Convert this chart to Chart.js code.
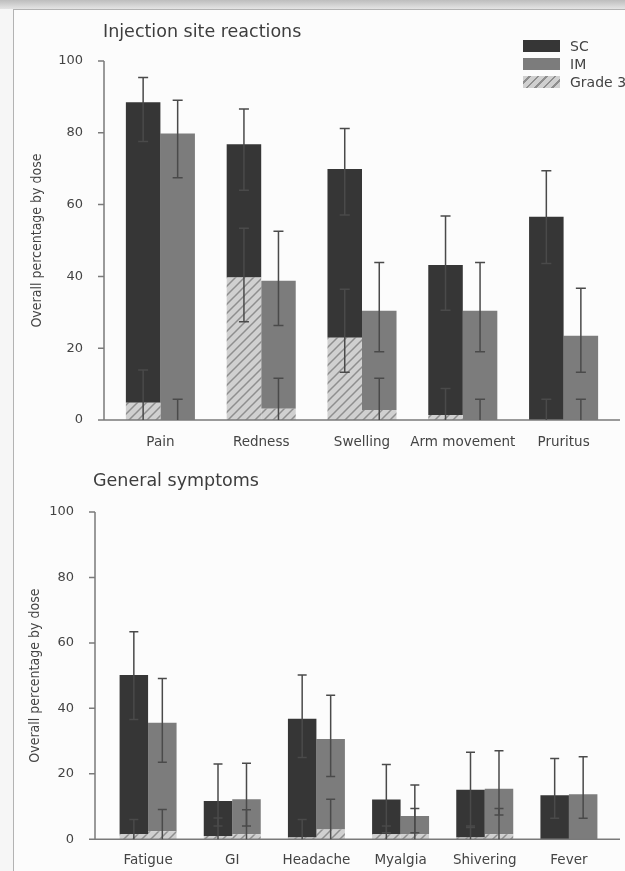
<!DOCTYPE html>
<html>
<head>
<meta charset="utf-8">
<script src="https://cdn.jsdelivr.net/npm/chart.js@4.4.1/dist/chart.umd.min.js"></script>
<style>
body { margin: 0; width: 625px; height: 871px; overflow: hidden; position: relative; background: #f6f6f6; font-family: "DejaVu Sans", sans-serif; }
#band { position: absolute; left: 0; top: 0; width: 625px; height: 9px; background: linear-gradient(#bdbdbd, #e4e4e4); }
#frame { position: absolute; left: 13px; top: 9px; width: 640px; height: 900px; border-left: 1px solid #b3b3b3; border-top: 1px solid #b3b3b3; background: #fcfcfc; }
.ptitle { position: absolute; font-size: 17.5px; line-height: 20px; color: #3d3d3d; white-space: nowrap; }
.sw { position: absolute; left: 523px; width: 37px; height: 12px; }
.lt { position: absolute; left: 570px; font-size: 14px; line-height: 14px; color: #444; white-space: nowrap; }
canvas { position: absolute; left: 0; }
</style>
</head>
<body>
<div id="band"></div>
<div id="frame"></div>
<canvas id="injChart" width="625" height="450" style="top:0;width:625px;height:450px"></canvas>
<canvas id="genChart" width="625" height="421" style="top:450px;width:625px;height:421px"></canvas>
<div class="ptitle" style="left:103px;top:21px">Injection site reactions</div>
<div class="ptitle" style="left:93px;top:470px">General symptoms</div>
<div class="sw" style="top:40px;background:#363636"></div>
<div class="sw" style="top:58px;background:#7c7c7c"></div>
<div class="sw" style="top:76px;background:repeating-linear-gradient(135deg,#d0d0d0 0px,#d0d0d0 4px,#8e8e8e 4px,#8e8e8e 6px)"></div>
<div class="lt" style="top:39px">SC</div>
<div class="lt" style="top:57px">IM</div>
<div class="lt" style="top:75px">Grade 3</div>
<script>
'use strict';

// injection site reactions (top panel)
var injCategories = ['Pain', 'Redness', 'Swelling', 'Arm movement', 'Pruritus'];
var injSC = [88.5, 76.8, 69.9, 43.2, 56.6];
var injSCLow = [77.6, 64, 57.1, 30.6, 43.6];
var injSCHigh = [95.4, 86.6, 81.2, 56.8, 69.4];
var injSCG3 = [4.8, 39.7, 22.9, 1.4, 0];
var injSCG3Low = [0, 27.4, 13.3, 0, 0];
var injSCG3High = [13.9, 53.4, 36.4, 8.8, 5.8];
var injIM = [79.8, 38.8, 30.4, 30.4, 23.5];
var injIMLow = [67.5, 26.3, 19.0, 19.0, 13.3];
var injIMHigh = [89.1, 52.6, 43.9, 43.9, 36.7];
var injIMG3 = [0, 3.1, 2.8, 0, 0];
var injIMG3Low = [0, 0, 0, 0, 0];
var injIMG3High = [5.8, 11.6, 11.6, 5.8, 5.8];

// general symptoms (bottom panel)
var genCategories = ['Fatigue', 'GI', 'Headache', 'Myalgia', 'Shivering', 'Fever'];
var genSC = [50.2, 11.7, 36.8, 12.1, 15.1, 13.4];
var genSCLow = [36.6, 4, 25, 2, 3.6, 6.4];
var genSCHigh = [63.4, 23, 50.2, 22.8, 26.6, 24.7];
var genSCG3 = [1.5, 1, 0.5, 1.5, 0.5, 0];
var genSCG3Low = [0, 0, 0, 0, 0, 0];
var genSCG3High = [6, 6.5, 6, 4, 4, 0];
var genIM = [35.6, 12.2, 30.6, 7.1, 15.4, 13.7];
var genIMLow = [23.5, 4, 19.2, 2, 7.4, 6.4];
var genIMHigh = [49.1, 23.2, 44, 16.6, 27, 25.2];
var genIMG3 = [2.4, 1.5, 3.0, 1.5, 1.5, 0];
var genIMG3Low = [0, 0, 0, 0, 0, 0];
var genIMG3High = [9.1, 9, 12.2, 9.4, 9.4, 0];

var yTicks = [0, 20, 40, 60, 80, 100];

Chart.defaults.font.family = '"DejaVu Sans", sans-serif';
Chart.defaults.color = '#444';

function makeHatch() {
    var c = document.createElement('canvas');
    c.width = 9;
    c.height = 9;
    var g = c.getContext('2d');
    g.fillStyle = '#d0d0d0';
    g.fillRect(0, 0, 9, 9);
    g.strokeStyle = '#8e8e8e';
    g.lineWidth = 1.5;
    g.beginPath();
    g.moveTo(0, 9); g.lineTo(9, 0);
    g.moveTo(-2, 2); g.lineTo(2, -2);
    g.moveTo(7, 11); g.lineTo(11, 7);
    g.stroke();
    return g.createPattern(c, 'repeat');
}
var hatch = makeHatch();

// axis lines sit a little left of the first category, like the original
var axisLines = {
    id: 'axisLines',
    afterDatasetsDraw: function (chart, args, opts) {
        var ctx = chart.ctx;
        var y = chart.scales.y;
        var ax = chart.chartArea.left - opts.gap;
        var y0 = y.getPixelForValue(0);
        ctx.save();
        ctx.strokeStyle = '#7a7a7a';
        ctx.lineWidth = 1.5;
        ctx.beginPath();
        ctx.moveTo(ax, y.getPixelForValue(100));
        ctx.lineTo(ax, y0);
        ctx.lineTo(opts.end, y0);
        yTicks.forEach(function (t) {
            var py = y.getPixelForValue(t);
            ctx.moveTo(ax - 6, py);
            ctx.lineTo(ax, py);
        });
        ctx.stroke();
        ctx.restore();
    }
};

var errBars = {
    id: 'errBars',
    afterDatasetsDraw: function (chart, args, opts) {
        var ctx = chart.ctx;
        var y = chart.scales.y;
        var c = opts.cap / 2;
        ctx.save();
        ctx.strokeStyle = '#4a4a4a';
        ctx.lineWidth = 1.5;
        chart.data.datasets.forEach(function (ds, k) {
            var meta = chart.getDatasetMeta(k);
            meta.data.forEach(function (bar, i) {
                var lo = ds.errLow[i], hi = ds.errHigh[i];
                if (lo === hi) return;
                var x = bar.x;
                var y1 = y.getPixelForValue(lo);
                var y2 = y.getPixelForValue(hi);
                ctx.beginPath();
                ctx.moveTo(x, y1);
                ctx.lineTo(x, y2);
                ctx.moveTo(x - c, y2);
                ctx.lineTo(x + c, y2);
                if (lo > 0) {
                    ctx.moveTo(x - c, y1);
                    ctx.lineTo(x + c, y1);
                }
                ctx.stroke();
            });
        });
        ctx.restore();
    }
};

function makeDatasets(sc, scLow, scHigh, scG3, scG3Low, scG3High, im, imLow, imHigh, imG3, imG3Low, imG3High) {
    return [
        { label: 'SC grade 3', stack: 'SC', data: scG3, backgroundColor: hatch, errLow: scG3Low, errHigh: scG3High },
        { label: 'SC', stack: 'SC', data: sc.map(function (v, i) { return v - scG3[i]; }), backgroundColor: '#363636', errLow: scLow, errHigh: scHigh },
        { label: 'IM grade 3', stack: 'IM', data: imG3, backgroundColor: hatch, errLow: imG3Low, errHigh: imG3High },
        { label: 'IM', stack: 'IM', data: im.map(function (v, i) { return v - imG3[i]; }), backgroundColor: '#7c7c7c', errLow: imLow, errHigh: imHigh }
    ];
}

function makeOptions(p) {
    return {
        responsive: false,
        animation: false,
        layout: { padding: { left: 0, right: p.right, top: p.top, bottom: 0 } },
        datasets: { bar: { barPercentage: 1, categoryPercentage: p.catPct, borderWidth: 0 } },
        plugins: {
            legend: { display: false },
            tooltip: { enabled: false },
            axisLines: { gap: p.gap, end: 620 },
            errBars: { cap: p.cap }
        },
        scales: {
            x: {
                stacked: true,
                grid: { display: false },
                border: { display: false },
                ticks: { padding: p.xPad, color: '#444', font: { size: 13.5 }, autoSkip: false, maxRotation: 0, minRotation: 0 },
                afterFit: function (s) { s.height = p.xHeight; }
            },
            y: {
                stacked: true,
                min: 0,
                max: 100,
                grid: { display: false },
                border: { display: false },
                ticks: { stepSize: 20, padding: p.yPad, color: '#444', font: { size: 13 } },
                title: {
                    display: true,
                    text: 'Overall percentage by dose',
                    color: '#444',
                    font: { family: '"DejaVu Sans Condensed", "Liberation Sans Narrow", sans-serif', size: 14 },
                    padding: { top: p.titlePad, bottom: 0 }
                },
                afterFit: function (s) { s.width = p.yWidth; }
            }
        }
    };
}

new Chart(document.getElementById('injChart'), {
    type: 'bar',
    data: {
        labels: injCategories,
        datasets: makeDatasets(injSC, injSCLow, injSCHigh, injSCG3, injSCG3Low, injSCG3High,
            injIM, injIMLow, injIMHigh, injIMG3, injIMG3Low, injIMG3High)
    },
    options: makeOptions({ right: 11, top: 61, catPct: 0.685, gap: 6, cap: 10, xPad: 6, xHeight: 30, yPad: 19, titlePad: 28.6, yWidth: 110 }),
    plugins: [axisLines, errBars]
});

new Chart(document.getElementById('genChart'), {
    type: 'bar',
    data: {
        labels: genCategories,
        datasets: makeDatasets(genSC, genSCLow, genSCHigh, genSCG3, genSCG3Low, genSCG3High,
            genIM, genIMLow, genIMHigh, genIMG3, genIMG3Low, genIMG3High)
    },
    options: makeOptions({ right: 14, top: 62, catPct: 0.677, gap: 11, cap: 9, xPad: 5, xHeight: 28, yPad: 24, titlePad: 26.6, yWidth: 106 }),
    plugins: [axisLines, errBars]
});
</script>
</body>
</html>
